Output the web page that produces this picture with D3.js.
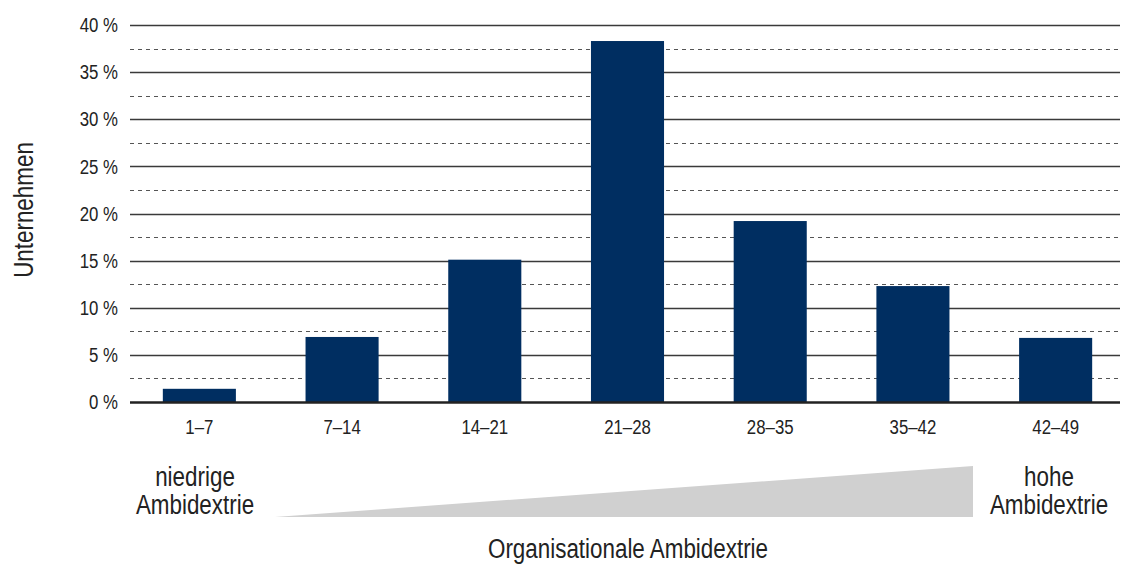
<!DOCTYPE html>
<html><head><meta charset="utf-8">
<script src="https://cdn.jsdelivr.net/npm/d3@7"></script>
<style>
body{margin:0;background:#fff;}
text{font-family:"Liberation Sans",Arial,sans-serif;fill:#222;}
</style></head>
<body><svg id="c" width="1123" height="565"></svg>
<script>
const categories = ["1–7","7–14","14–21","21–28","28–35","35–42","42–49"];
const values = [1.4, 6.9, 15.1, 38.3, 19.2, 12.3, 6.8];
const majorTicks = [0,5,10,15,20,25,30,35,40];
const minorTicks = [2.5,7.5,12.5,17.5,22.5,27.5,32.5,37.5];
const yTitle = "Unternehmen";
const xTitle = "Organisationale Ambidextrie";
const lowLabel = ["niedrige","Ambidextrie"];
const highLabel = ["hohe","Ambidextrie"];

const SX = 0.8; // condensed look
const svg = d3.select("#c");
const mLeft = 130, mRight = 1120, mTop = 25, mBottom = 402;
const y = d3.scaleLinear().domain([0,40]).range([mBottom, mTop]);
const x = d3.scaleBand().domain(categories).range([130, 1125]).paddingInner(0.488).paddingOuter(0.23);

// minor dashed grid
svg.append("g").selectAll("line").data(minorTicks).join("line")
  .attr("x1", mLeft).attr("x2", mRight)
  .attr("y1", d=>Math.round(y(d))+0.5).attr("y2", d=>Math.round(y(d))+0.5)
  .attr("stroke","#555").attr("stroke-width",1.2).attr("stroke-dasharray","4,4");
// major grid
svg.append("g").selectAll("line").data(majorTicks.filter(d=>d>0)).join("line")
  .attr("x1", mLeft).attr("x2", mRight)
  .attr("y1", d=>Math.round(y(d))+0.5).attr("y2", d=>Math.round(y(d))+0.5)
  .attr("stroke","#3a3a3a").attr("stroke-width",1.4);

// y axis labels
const yAxis = d3.axisLeft(y).tickValues(majorTicks).tickSize(0).tickPadding(15).tickFormat(d=>d+" %");
const ga = svg.append("g").attr("transform",`translate(${mLeft},0)`).call(yAxis);
ga.select(".domain").remove();
ga.selectAll("text").style("font-size","21px").attr("fill","#222").attr("transform",`scale(${SX},1)`);

// bars
svg.append("g").selectAll("rect").data(values).join("rect")
  .attr("x",(d,i)=>x(categories[i])).attr("width",x.bandwidth())
  .attr("y",d=>y(d)).attr("height",d=>y(0)-y(d))
  .attr("fill","#002e61");

// baseline
svg.append("line").attr("x1",mLeft).attr("x2",mRight).attr("y1",y(0)+0.5).attr("y2",y(0)+0.5)
  .attr("stroke","#222").attr("stroke-width",2.5);

// x axis labels
const xAxis = d3.axisBottom(x).tickSize(0).tickPadding(17);
const gx = svg.append("g").attr("transform",`translate(0,${mBottom})`).call(xAxis);
gx.select(".domain").remove();
gx.selectAll("text").style("font-size","21px").attr("fill","#222").attr("transform",`scale(${SX},1)`);

// y title
svg.append("text").attr("transform",`translate(33,210) rotate(-90) scale(${SX},1)`)
  .attr("text-anchor","middle").style("font-size","28px").text(yTitle);

// wedge
svg.append("path").attr("d",`M275,517 L973,517 L973,466 Z`).attr("fill","#d0d0d0");

const lab = (lines, cx) => {
  const t = svg.append("text").attr("text-anchor","middle").style("font-size","28px")
    .attr("transform",`translate(${cx},0) scale(${SX},1)`);
  lines.forEach((s,i)=>t.append("tspan").attr("x",0).attr("y",486+i*28).text(s));
};
lab(lowLabel, 195);
lab(highLabel, 1049);

svg.append("text").attr("transform",`translate(628,558) scale(${SX},1)`).attr("text-anchor","middle")
  .style("font-size","28px").text(xTitle);
</script></body></html>
